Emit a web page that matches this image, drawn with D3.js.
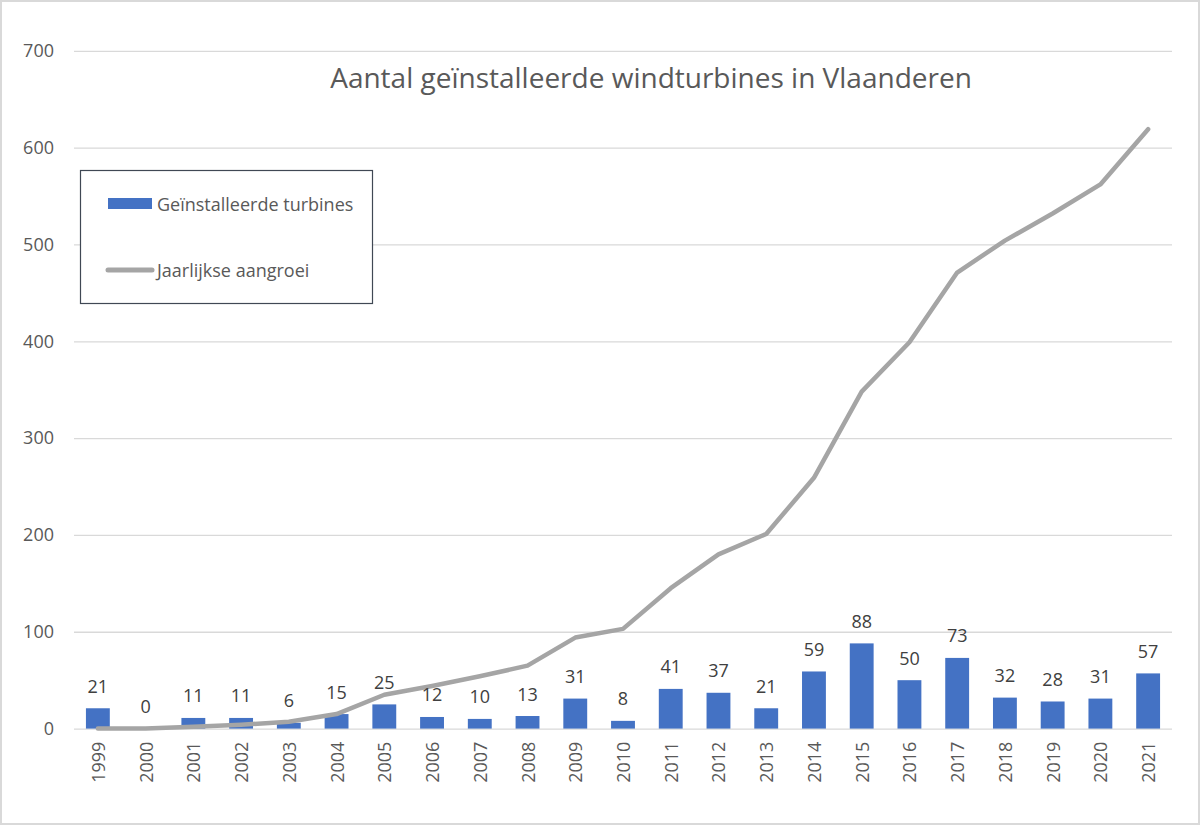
<!DOCTYPE html>
<html>
<head>
<meta charset="utf-8">
<script src="https://cdn.jsdelivr.net/npm/d3@7"></script>
<style>
  html, body { margin: 0; padding: 0; background: #fff; }
  svg { display: block; }
  text { font-family: "Open Sans", "Noto Sans", sans-serif; }
</style>
</head>
<body>
<svg id="chart" width="1200" height="826"></svg>
<script>
const years = ["1999","2000","2001","2002","2003","2004","2005","2006","2007","2008","2009","2010","2011","2012","2013","2014","2015","2016","2017","2018","2019","2020","2021"];
const installed = [21,0,11,11,6,15,25,12,10,13,31,8,41,37,21,59,88,50,73,32,28,31,57];
const growth = [0,0,2,4,7,15,35,44,54,65,94,103,145,180,201,259,348,399,471,504,532,562,619];
const yTicks = [0,100,200,300,400,500,600,700];
const titleText = "Aantal geïnstalleerde windturbines in Vlaanderen";
const seriesNames = ["Geïnstalleerde turbines", "Jaarlijkse aangroei"];

const svg = d3.select("#chart");
const plotL = 74, plotR = 1172, plotT = 50.8, plotB = 728.6;

svg.append("rect").attr("x", 1).attr("y", 1).attr("width", 1198).attr("height", 823)
  .attr("fill", "#fff").attr("stroke", "#d9d9d9").attr("stroke-width", 2);

const x = d3.scaleBand().domain(years).range([plotL, plotR]).paddingInner(0.5).paddingOuter(0.25);
const y = d3.scaleLinear().domain([0, 700]).range([plotB, plotT]);

// gridlines + y labels
const yAxis = d3.axisLeft(y).tickValues(yTicks).tickSize(-(plotR - plotL)).tickPadding(20);
const gy = svg.append("g").attr("transform", `translate(${plotL},0)`).call(yAxis);
gy.select(".domain").remove();
gy.selectAll(".tick line").attr("stroke", "#d9d9d9").attr("stroke-width", 1.3);
gy.selectAll(".tick text").attr("fill", "#595959").attr("font-size", 18).attr("x", -20);

// x labels
const xAxis = d3.axisBottom(x).tickSize(0).tickPadding(0);
const gx = svg.append("g").attr("transform", `translate(0,${plotB})`).call(xAxis);
gx.select(".domain").remove();
gx.selectAll(".tick text")
  .attr("fill", "#595959").attr("font-size", 18)
  .attr("text-anchor", "end").attr("dy", null)
  .attr("dominant-baseline", "central")
  .attr("transform", "translate(0,13) rotate(-90)")
  .attr("x", 0).attr("y", 0);

// bars
svg.append("g").selectAll("rect").data(years).join("rect")
  .attr("x", d => x(d))
  .attr("width", x.bandwidth())
  .attr("y", (d, i) => y(installed[i]))
  .attr("height", (d, i) => plotB - y(installed[i]))
  .attr("fill", "#4472c4");

// line
const line = d3.line().x((d, i) => x(years[i]) + x.bandwidth() / 2).y(d => y(d));
svg.append("path").datum(growth)
  .attr("d", line).attr("fill", "none")
  .attr("stroke", "#a5a5a5").attr("stroke-width", 4.5)
  .attr("stroke-linejoin", "round").attr("stroke-linecap", "round");

// data labels
svg.append("g").selectAll("text").data(years).join("text")
  .attr("x", d => x(d) + x.bandwidth() / 2)
  .attr("y", (d, i) => y(installed[i]) - 15.5)
  .attr("text-anchor", "middle")
  .attr("font-size", 18).attr("fill", "#404040")
  .text((d, i) => installed[i]);

// title
svg.append("text").attr("x", 651).attr("y", 88).attr("text-anchor", "middle")
  .attr("font-size", 28).attr("fill", "#595959").text(titleText);

// legend
const lg = svg.append("g");
lg.append("rect").attr("x", 80.5).attr("y", 170.5).attr("width", 292).attr("height", 133)
  .attr("fill", "#fff").attr("stroke", "#404854").attr("stroke-width", 1.2);
lg.append("rect").attr("x", 108).attr("y", 198).attr("width", 44).attr("height", 11).attr("fill", "#4472c4");
lg.append("text").attr("x", 157).attr("y", 210.5).attr("font-size", 18).attr("fill", "#595959").text(seriesNames[0]);
lg.append("line").attr("x1", 108).attr("x2", 152).attr("y1", 270).attr("y2", 270)
  .attr("stroke", "#a5a5a5").attr("stroke-width", 5).attr("stroke-linecap", "round");
lg.append("text").attr("x", 157).attr("y", 276.5).attr("font-size", 18).attr("fill", "#595959").text(seriesNames[1]);
</script>
</body>
</html>
